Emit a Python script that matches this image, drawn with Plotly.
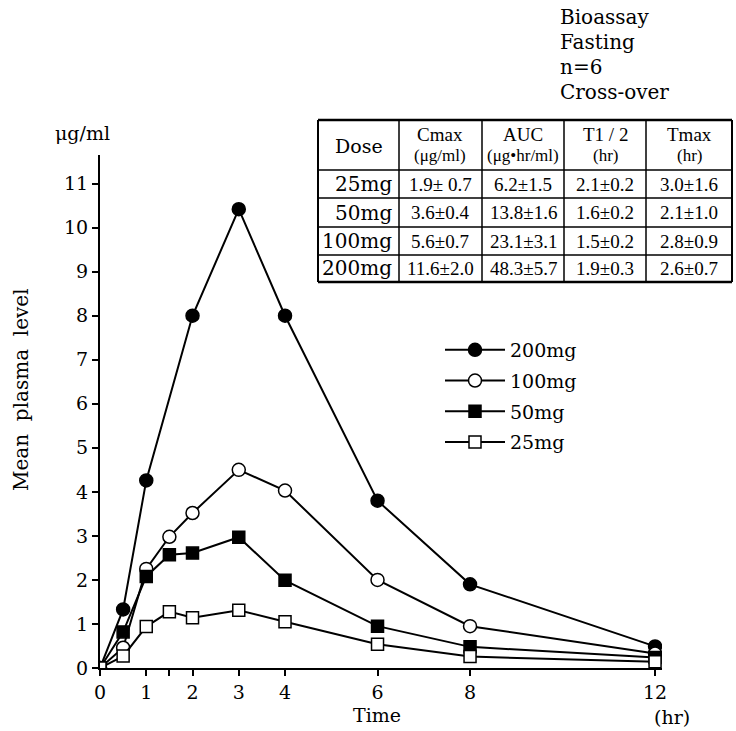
import plotly.graph_objects as go

# ---- data ----
dose_labels = ["200mg", "100mg", "50mg", "25mg"]
time_200 = [0, 0.5, 1, 2, 3, 4, 6, 8, 12]
level_200 = [0, 1.33, 4.26, 8.0, 10.42, 8.0, 3.8, 1.9, 0.49]
time_100 = [0, 0.5, 1, 1.5, 2, 3, 4, 6, 8, 12]
level_100 = [0, 0.46, 2.25, 2.98, 3.52, 4.5, 4.03, 2.0, 0.95, 0.33]
time_50 = [0, 0.5, 1, 1.5, 2, 3, 4, 6, 8, 12]
level_50 = [0, 0.82, 2.08, 2.57, 2.61, 2.97, 1.99, 0.95, 0.48, 0.24]
time_25 = [0, 0.5, 1, 1.5, 2, 3, 4, 6, 8, 12]
level_25 = [0, 0.27, 0.94, 1.28, 1.14, 1.31, 1.05, 0.54, 0.26, 0.14]

x_tickvals = [0, 1, 1.5, 2, 3, 4, 6, 8, 12]
x_ticktext = ["0", "1", "", "2", "3", "4", "6", "8", "12"]
y_tickvals = list(range(0, 12))

tbl_head_main = ["Dose", "Cmax", "AUC", "T1 / 2", "Tmax"]
tbl_head_unit = ["", "(μg/ml)", "(μg•hr/ml)", "(hr)", "(hr)"]
tbl_dose = ["25mg", "50mg", "100mg", "200mg"]
tbl_cmax = ["1.9± 0.7", "3.6±0.4", "5.6±0.7", "11.6±2.0"]
tbl_auc = ["6.2±1.5", "13.8±1.6", "23.1±3.1", "48.3±5.7"]
tbl_thalf = ["2.1±0.2", "1.6±0.2", "1.5±0.2", "1.9±0.3"]
tbl_tmax = ["3.0±1.6", "2.1±1.0", "2.8±0.9", "2.6±0.7"]

info_lines = ["Bioassay", "Fasting", "n=6", "Cross-over"]

SERIF = "DejaVu Serif"
NARROW = "Liberation Serif"
W, H = 736, 731


def px(x):
    return x / W


def py(y):
    return 1 - y / H


fig = go.Figure()

series = [
    (time_200, level_200, "circle", "black", 13),
    (time_100, level_100, "circle", "white", 13),
    (time_50, level_50, "square", "black", 12),
    (time_25, level_25, "square", "white", 12),
]
for (t, v, sym, fill, sz), name in zip(series, dose_labels):
    fig.add_trace(go.Scatter(
        x=t, y=v, name=name, mode="lines+markers", legendgroup=name,
        line=dict(color="black", width=2),
        marker=dict(symbol=sym, size=sz, color=fill,
                    line=dict(color="black", width=1.5)),
    ))

fig.update_layout(
    width=W, height=H,
    margin=dict(l=0, r=0, t=0, b=0),
    paper_bgcolor="white", plot_bgcolor="white",
    font=dict(family=SERIF, size=19, color="black"),
    showlegend=True,
    legend=dict(x=px(440), y=py(331), xanchor="left", yanchor="top",
                font=dict(family=SERIF, size=19, color="black"),
                bgcolor="rgba(0,0,0,0)", itemwidth=60, tracegroupgap=3),
    xaxis=dict(domain=[px(100), px(662)], range=[0, 12.15], automargin=False,
               tickvals=x_tickvals, ticktext=x_ticktext,
               showline=True, linecolor="black", linewidth=2,
               ticks="outside", ticklen=6, tickwidth=1.5, tickcolor="black",
               showgrid=False, zeroline=False,
               tickfont=dict(family=SERIF, size=19)),
    yaxis=dict(domain=[py(668), py(155)], range=[0, 11.65], automargin=False,
               tickvals=y_tickvals,
               showline=True, linecolor="black", linewidth=2,
               ticks="outside", ticklen=6, tickwidth=1.5, tickcolor="black",
               showgrid=False, zeroline=False,
               tickfont=dict(family=SERIF, size=19)),
)


def text(t, x, y, size, family=SERIF, xanchor="center", angle=0):
    fig.add_annotation(text=t, x=x, y=y, xref="paper", yref="paper",
                       showarrow=False, xanchor=xanchor, yanchor="middle",
                       textangle=angle,
                       font=dict(family=family, size=size, color="black"))


text("μg/ml", px(82), py(133), 19)
text("Time", px(377), py(715), 19)
text("(hr)", px(672), py(717), 19)
text("Mean\u00a0 plasma\u00a0 level", px(21), py(390), 20, angle=-90)
for i, line in enumerate(info_lines):
    text(line, px(558), py(17 + 25 * i), 20, xanchor="left")

# ---- summary table (drawn with lines and text) ----
col_edges = [318, 399, 482, 564, 646, 732]
row_edges = [120, 170, 198, 227, 255, 282]
for xe in col_edges:
    fig.add_shape(type="line", xref="paper", yref="paper",
                  x0=px(xe), x1=px(xe), y0=py(row_edges[0]), y1=py(row_edges[-1]),
                  line=dict(color="black", width=2 if xe in (col_edges[0], col_edges[-1]) else 1.5))
for ye in row_edges:
    fig.add_shape(type="line", xref="paper", yref="paper",
                  x0=px(col_edges[0]), x1=px(col_edges[-1]), y0=py(ye), y1=py(ye),
                  line=dict(color="black", width=2.5 if ye in (row_edges[0], row_edges[-1]) else 1.5))

centers_x = [(col_edges[i] + col_edges[i + 1]) / 2 for i in range(5)]
hdr_top, hdr_bot = row_edges[0], row_edges[1]
for i, (m, u) in enumerate(zip(tbl_head_main, tbl_head_unit)):
    if u:
        text(m, px(centers_x[i]), py(hdr_top + 14), 19, family=NARROW)
        text(u, px(centers_x[i]), py(hdr_top + 35), 17, family=NARROW)
    else:
        text(m, px(centers_x[i]), py((hdr_top + hdr_bot) / 2 + 1), 19)

columns = [tbl_dose, tbl_cmax, tbl_auc, tbl_thalf, tbl_tmax]
for c, col in enumerate(columns):
    for r, val in enumerate(col):
        yc = (row_edges[r + 1] + row_edges[r + 2]) / 2
        if c == 0:
            text(val, px(col_edges[1] - 5), py(yc), 20, xanchor="right")
        else:
            text(val, px(centers_x[c]), py(yc), 19, family=NARROW)

fig.write_html("out.html")
